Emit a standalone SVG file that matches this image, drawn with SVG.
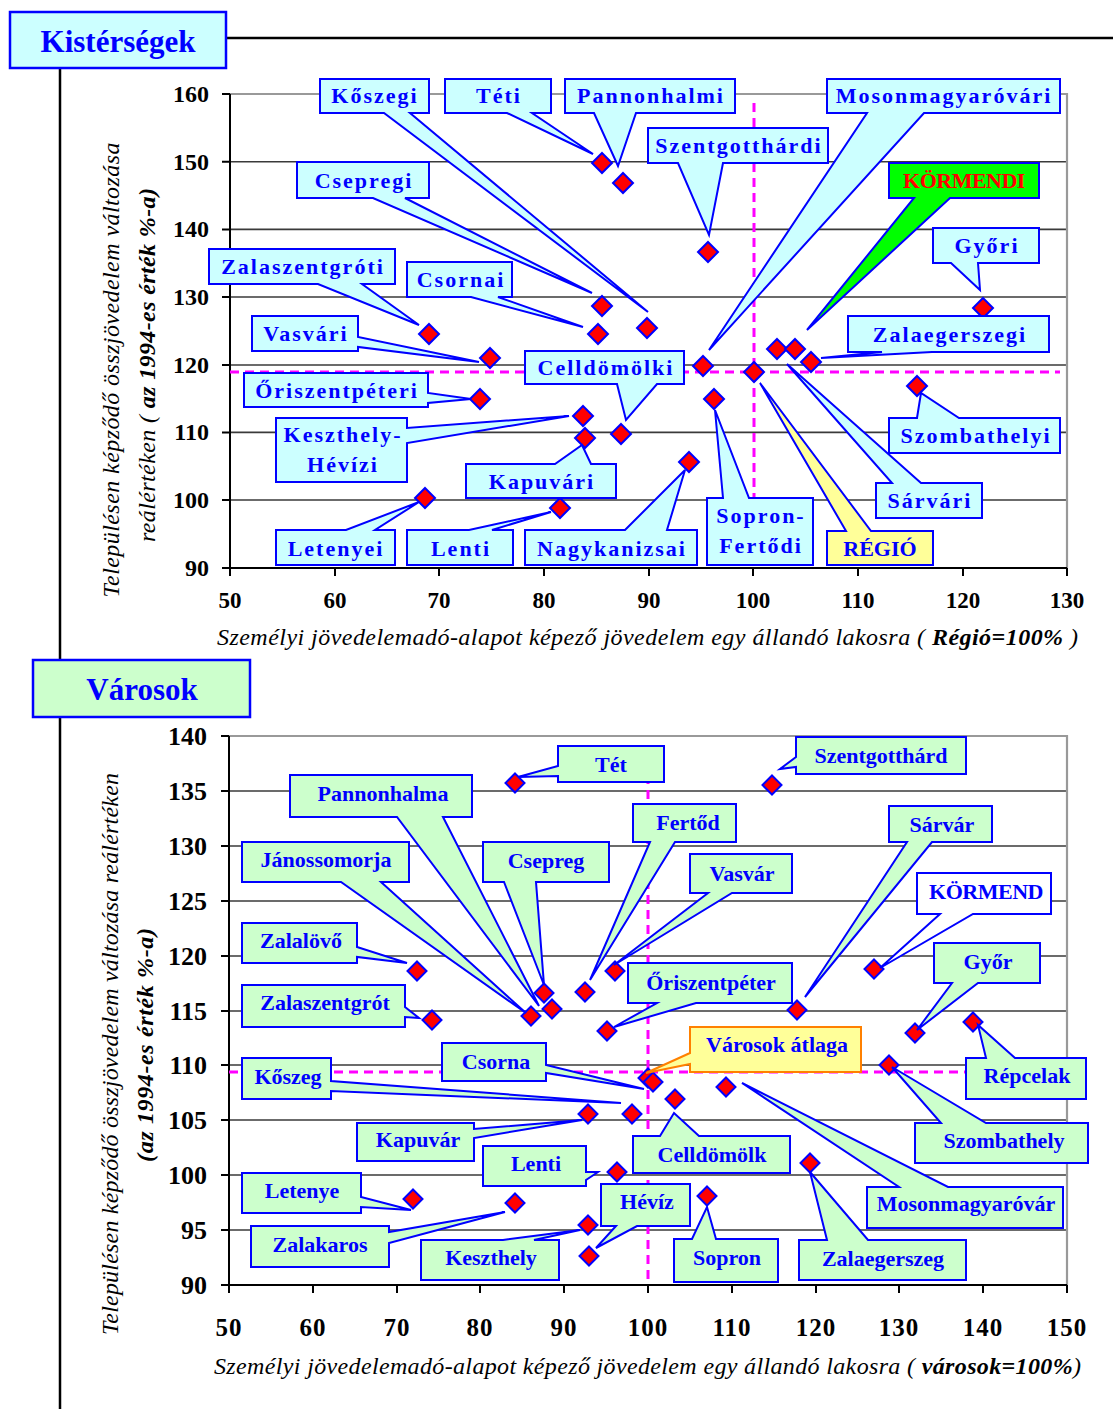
<svg xmlns="http://www.w3.org/2000/svg" width="1113" height="1409" viewBox="0 0 1113 1409" font-family="'Liberation Serif', 'Times New Roman', Times, serif">
<defs>
<style>
.bg{fill:#fff}
.frame{stroke:#000;stroke-width:2.5;fill:none}
.grid{stroke:#3a3a3a;stroke-width:1.6}
.border{stroke:#999;stroke-width:2.2;fill:none}
.axis{stroke:#000;stroke-width:2;fill:none}
.avg{stroke:#ff00ff;stroke-width:3;stroke-dasharray:9,6;fill:none}
.pt{fill:#ff0000;stroke:#0000ff;stroke-width:2}
.c1{fill:#ccffff;stroke:#0000ff;stroke-width:2;stroke-linejoin:miter}
.c2{fill:#ccffcc;stroke:#0000ff;stroke-width:2;stroke-linejoin:miter}
text{font-family:'Liberation Serif', 'Times New Roman', Times, serif}
.lt{font-weight:bold;font-size:22px;fill:#0000ff;text-anchor:middle;letter-spacing:2px}
.lb{font-weight:bold;font-size:22px;fill:#0000ff;text-anchor:middle}
.head{font-weight:bold;font-size:31px;fill:#0000ff;text-anchor:middle}
.ty{font-weight:bold;font-size:24px;fill:#000;text-anchor:end}
.tx{font-weight:bold;font-size:23px;fill:#000;text-anchor:middle}
.by{font-weight:bold;font-size:26px;fill:#000;text-anchor:end}
.bx{font-weight:bold;font-size:25px;fill:#000;text-anchor:middle;letter-spacing:1px}
.ttl{font-style:italic;font-size:24px;fill:#000}
.b{font-weight:bold}
</style>
<path id="dm" d="M0,-10 L10,0 L0,10 L-10,0 Z"/>
<path id="dm2" d="M0,-9.5 L9.5,0 L0,9.5 L-9.5,0 Z"/>
</defs>
<rect class="bg" x="0" y="0" width="1113" height="1409"/>

<g id="frame">
<line class="frame" x1="226" y1="38" x2="1113" y2="38"/>
<line class="frame" x1="60" y1="68" x2="60" y2="1409"/>
</g>

<g id="chart1-axes">
<g class="grid">
<line x1="230" y1="161.7" x2="1067" y2="161.7"/>
<line x1="230" y1="229.4" x2="1067" y2="229.4"/>
<line x1="230" y1="297" x2="1067" y2="297"/>
<line x1="230" y1="365" x2="1067" y2="365"/>
<line x1="230" y1="432.4" x2="1067" y2="432.4"/>
<line x1="230" y1="500" x2="1067" y2="500"/>
</g>
<path class="border" d="M230,94 H1067 V568"/>
<path class="axis" d="M230,94 V568 H1067"/>
<path class="axis" d="M222,94 H230 M222,161.7 H230 M222,229.4 H230 M222,297 H230 M222,365 H230 M222,432.4 H230 M222,500 H230 M222,568 H230 M230,568 V576 M335,568 V576 M439,568 V576 M544,568 V576 M649,568 V576 M753,568 V576 M858,568 V576 M963,568 V576 M1067,568 V576"/>
<text class="ty" x="209" y="102">160</text>
<text class="ty" x="209" y="170">150</text>
<text class="ty" x="209" y="237">140</text>
<text class="ty" x="209" y="305">130</text>
<text class="ty" x="209" y="373">120</text>
<text class="ty" x="209" y="440">110</text>
<text class="ty" x="209" y="508">100</text>
<text class="ty" x="209" y="576">90</text>
<text class="tx" x="230" y="608">50</text>
<text class="tx" x="335" y="608">60</text>
<text class="tx" x="439" y="608">70</text>
<text class="tx" x="544" y="608">80</text>
<text class="tx" x="649" y="608">90</text>
<text class="tx" x="753" y="608">100</text>
<text class="tx" x="858" y="608">110</text>
<text class="tx" x="963" y="608">120</text>
<text class="tx" x="1067" y="608">130</text>
<text class="ttl" x="217" y="645" textLength="861" lengthAdjust="spacing">Személyi jövedelemadó-alapot képező jövedelem egy állandó lakosra ( <tspan class="b">Régió=100%</tspan> )</text>
<text class="ttl" transform="translate(119,370) rotate(-90)" text-anchor="middle" textLength="455" lengthAdjust="spacing">Településen képződő összjövedelem változása</text>
<text class="ttl" transform="translate(155,365) rotate(-90)" text-anchor="middle" textLength="354" lengthAdjust="spacing">reálértéken ( <tspan class="b">az 1994-es érték %-a)</tspan></text>
<line class="avg" x1="230" y1="372" x2="1060" y2="372"/>
<line class="avg" x1="754" y1="103" x2="754" y2="568"/>
</g>

<g id="chart1-points">
<use href="#dm" class="pt" x="602" y="163"/>
<use href="#dm" class="pt" x="623" y="183"/>
<use href="#dm" class="pt" x="708" y="252"/>
<use href="#dm" class="pt" x="983" y="308"/>
<use href="#dm" class="pt" x="602" y="306"/>
<use href="#dm" class="pt" x="647" y="328"/>
<use href="#dm" class="pt" x="598" y="334"/>
<use href="#dm" class="pt" x="429" y="334"/>
<use href="#dm" class="pt" x="490" y="358"/>
<use href="#dm" class="pt" x="703" y="366"/>
<use href="#dm" class="pt" x="777" y="349"/>
<use href="#dm" class="pt" x="795" y="349"/>
<use href="#dm" class="pt" x="811" y="362"/>
<use href="#dm" class="pt" x="754" y="372"/>
<use href="#dm" class="pt" x="480" y="399"/>
<use href="#dm" class="pt" x="714" y="399"/>
<use href="#dm" class="pt" x="917" y="386"/>
<use href="#dm" class="pt" x="583" y="416"/>
<use href="#dm" class="pt" x="621" y="434"/>
<use href="#dm" class="pt" x="585" y="438"/>
<use href="#dm" class="pt" x="689" y="462"/>
<use href="#dm" class="pt" x="425" y="498"/>
<use href="#dm" class="pt" x="560" y="508"/>
</g>

<g id="connectors"></g>

<g id="kisterségek-title">
<rect x="10" y="12" width="216" height="56" fill="#ccffff" stroke="#0000ff" stroke-width="2.5"/>
<text class="head" x="118" y="52">Kistérségek</text>
</g>

<g id="n-koszegi"><path class="c1" d="M320,79 H429 V113 H410 L648,312 L384,113 H320 Z"/><text class="lt" x="375" y="103">Kőszegi</text></g>
<g id="n-teti"><path class="c1" d="M445,79 H551 V113 H532 L593,154 L507,113 H445 Z"/><text class="lt" x="499" y="103">Téti</text></g>
<g id="n-pannonhalmi"><path class="c1" d="M565,79 H735 V113 H636 L618,166 L594,113 H565 Z"/><text class="lt" x="651" y="103">Pannonhalmi</text></g>
<g id="n-mosonmagyarovari"><path class="c1" d="M827,79 H1060 V113 H924 L709,350 L867,113 H827 Z"/><text class="lt" x="944" y="103">Mosonmagyaróvári</text></g>
<g id="n-szentgotthardi"><path class="c1" d="M648,128 H828 V163 H723 L709,235 L678,163 H648 Z"/><text class="lt" x="739" y="153">Szentgotthárdi</text></g>
<g id="n-csepregi"><path class="c1" d="M297,162 H429 V198 H405 L592,293 L373,198 H297 Z"/><text class="lt" x="364" y="188">Csepregi</text></g>
<g id="n-kormendi"><path d="M889,163 H1039 V198 H950 L807,330 L914,198 H889 Z" fill="#00ff00" stroke="#0000ff" stroke-width="2"/><text class="lb" x="964" y="188" style="fill:#ff0000;letter-spacing:-0.5px">KÖRMENDI</text></g>
<g id="n-gyori"><path class="c1" d="M933,228 H1039 V263 H978 L980,290 L951,263 H933 Z"/><text class="lt" x="987" y="253">Győri</text></g>
<g id="n-zalaszentgroti"><path class="c1" d="M209,249 H395 V284 H362 L419,325 L318,284 H209 Z"/><text class="lt" x="303" y="274">Zalaszentgróti</text></g>
<g id="n-csornai"><path class="c1" d="M407,262 H512 V297 H498 L583,327 L471,297 H407 Z"/><text class="lt" x="461" y="287">Csornai</text></g>
<g id="n-vasvari"><path class="c1" d="M252,316 H358 V337 L479,362 L358,347 V351 H252 Z"/><text class="lt" x="306" y="341">Vasvári</text></g>
<g id="n-zalaegerszegi"><path class="c1" d="M848,316 H1049 V352 H932 L821,358 L882,352 H848 Z"/><text class="lt" x="950" y="342">Zalaegerszegi</text></g>
<g id="n-celldomolki"><path class="c1" d="M525,351 H684 V384 H657 L626,420 L617,384 H525 Z"/><text class="lt" x="606" y="375">Celldömölki</text></g>
<g id="n-oriszentpeteri"><path class="c1" d="M244,373 H428 V393 L471,399 L428,403 V407 H244 Z"/><text class="lt" x="337" y="398">Őriszentpéteri</text></g>
<g id="n-keszthely-hevizi"><path class="c1" d="M276,418 H407 V428 L569,416 L407,443 V482 H276 Z"/><text class="lt" x="343" y="442">Keszthely-</text><text class="lt" x="343" y="472">Hévízi</text></g>
<g id="n-szombathelyi"><path class="c1" d="M889,418 H917 L921,393 L959,418 H1060 V453 H889 Z"/><text class="lt" x="976" y="443">Szombathelyi</text></g>
<g id="n-kapuvari"><path class="c1" d="M466,464 H555 L582,445 L591,464 H616 V498 H466 Z"/><text class="lt" x="542" y="489">Kapuvári</text></g>
<g id="n-sarvari"><path class="c1" d="M876,483 H892 L787,364 L921,483 H982 V518 H876 Z"/><text class="lt" x="930" y="508">Sárvári</text></g>
<g id="n-sopron-fertodi"><path class="c1" d="M707,498 H723 L715,410 L749,498 H813 V565 H707 Z"/><text class="lt" x="761" y="523">Sopron-</text><text class="lt" x="761" y="553">Fertődi</text></g>
<g id="n-letenyei"><path class="c1" d="M276,530 H346 L419,502 L375,530 H395 V565 H276 Z"/><text class="lt" x="336" y="556">Letenyei</text></g>
<g id="n-lenti"><path class="c1" d="M407,530 H469 L551,512 L492,530 H513 V565 H407 Z"/><text class="lt" x="461" y="556">Lenti</text></g>
<g id="n-nagykanizsai"><path class="c1" d="M525,530 H625 L685,470 L667,530 H697 V565 H525 Z"/><text class="lt" x="612" y="556">Nagykanizsai</text></g>
<g id="n-regio"><path d="M827,531 H846 L760,383 L871,531 H933 V565 H827 Z" fill="#ffff99" stroke="#0000ff" stroke-width="2"/><text class="lb" x="880" y="556">RÉGIÓ</text></g>

<g id="chart2-axes">
<g class="grid">
<line x1="229" y1="791" x2="1067" y2="791"/>
<line x1="229" y1="846" x2="1067" y2="846"/>
<line x1="229" y1="901" x2="1067" y2="901"/>
<line x1="229" y1="956" x2="1067" y2="956"/>
<line x1="229" y1="1011" x2="1067" y2="1011"/>
<line x1="229" y1="1065" x2="1067" y2="1065"/>
<line x1="229" y1="1120" x2="1067" y2="1120"/>
<line x1="229" y1="1175" x2="1067" y2="1175"/>
<line x1="229" y1="1230" x2="1067" y2="1230"/>
</g>
<path class="border" d="M229,736 H1067 V1285"/>
<path class="axis" d="M229,736 V1285 H1067"/>
<path class="axis" d="M221,736 H229 M221,791 H229 M221,846 H229 M221,901 H229 M221,956 H229 M221,1011 H229 M221,1065 H229 M221,1120 H229 M221,1175 H229 M221,1230 H229 M221,1285 H229 M229,1285 V1293 M313,1285 V1293 M397,1285 V1293 M480,1285 V1293 M564,1285 V1293 M648,1285 V1293 M732,1285 V1293 M816,1285 V1293 M899,1285 V1293 M983,1285 V1293 M1067,1285 V1293"/>
<text class="by" x="207" y="745">140</text>
<text class="by" x="207" y="800">135</text>
<text class="by" x="207" y="855">130</text>
<text class="by" x="207" y="910">125</text>
<text class="by" x="207" y="965">120</text>
<text class="by" x="207" y="1020">115</text>
<text class="by" x="207" y="1074">110</text>
<text class="by" x="207" y="1129">105</text>
<text class="by" x="207" y="1184">100</text>
<text class="by" x="207" y="1239">95</text>
<text class="by" x="207" y="1294">90</text>
<text class="bx" x="229" y="1336">50</text>
<text class="bx" x="313" y="1336">60</text>
<text class="bx" x="397" y="1336">70</text>
<text class="bx" x="480" y="1336">80</text>
<text class="bx" x="564" y="1336">90</text>
<text class="bx" x="648" y="1336">100</text>
<text class="bx" x="732" y="1336">110</text>
<text class="bx" x="816" y="1336">120</text>
<text class="bx" x="899" y="1336">130</text>
<text class="bx" x="983" y="1336">140</text>
<text class="bx" x="1067" y="1336">150</text>
<text class="ttl" x="214" y="1374" textLength="867" lengthAdjust="spacing">Személyi jövedelemadó-alapot képező jövedelem egy állandó lakosra ( <tspan class="b">városok=100%</tspan>)</text>
<text class="ttl" transform="translate(118,1054) rotate(-90)" text-anchor="middle" textLength="562" lengthAdjust="spacing">Településen képződő összjövedelem változása reálértéken</text>
<text class="ttl b" transform="translate(153,1045) rotate(-90)" text-anchor="middle" textLength="234" lengthAdjust="spacing">(az 1994-es érték %-a)</text>
<line class="avg" x1="229" y1="1072" x2="1067" y2="1072"/>
<line class="avg" x1="648" y1="745" x2="648" y2="1285"/>
</g>

<g id="chart2-points">
<use href="#dm2" class="pt" x="515" y="783"/>
<use href="#dm2" class="pt" x="772" y="785"/>
<use href="#dm2" class="pt" x="417" y="971"/>
<use href="#dm2" class="pt" x="615" y="971"/>
<use href="#dm2" class="pt" x="874" y="969"/>
<use href="#dm2" class="pt" x="585" y="992"/>
<use href="#dm2" class="pt" x="544" y="993"/>
<use href="#dm2" class="pt" x="552" y="1009"/>
<use href="#dm2" class="pt" x="531" y="1016"/>
<use href="#dm2" class="pt" x="432" y="1020"/>
<use href="#dm2" class="pt" x="797" y="1010"/>
<use href="#dm2" class="pt" x="607" y="1031"/>
<use href="#dm2" class="pt" x="915" y="1033"/>
<use href="#dm2" class="pt" x="973" y="1022"/>
<use href="#dm2" class="pt" x="889" y="1065"/>
<use href="#dm2" class="pt" x="648" y="1078"/>
<use href="#dm2" class="pt" x="653" y="1082"/>
<use href="#dm2" class="pt" x="726" y="1087"/>
<use href="#dm2" class="pt" x="675" y="1099"/>
<use href="#dm2" class="pt" x="588" y="1114"/>
<use href="#dm2" class="pt" x="632" y="1114"/>
<use href="#dm2" class="pt" x="617" y="1172"/>
<use href="#dm2" class="pt" x="810" y="1163"/>
<use href="#dm2" class="pt" x="413" y="1199"/>
<use href="#dm2" class="pt" x="515" y="1203"/>
<use href="#dm2" class="pt" x="707" y="1196"/>
<use href="#dm2" class="pt" x="588" y="1225"/>
<use href="#dm2" class="pt" x="589" y="1256"/>
</g>

<g id="varosok-title">
<rect x="33" y="660" width="217" height="57" fill="#ccffcc" stroke="#0000ff" stroke-width="2.5"/>
<text class="head" x="142" y="700">Városok</text>
</g>

<g id="n-tet"><path class="c2" d="M558,746 H664 V782 H558 V776 L518,777 L558,766 Z"/><text class="lb" x="611" y="772">Tét</text></g>
<g id="n-szentgotthard"><path class="c2" d="M796,737 H966 V774 H796 V767 L780,769 L796,757 Z"/><text class="lb" x="881" y="763">Szentgotthárd</text></g>
<g id="n-pannonhalma"><path class="c2" d="M290,775 H472 V817 H443 L539,1006 L397,817 H290 Z"/><text class="lb" x="383" y="801">Pannonhalma</text></g>
<g id="n-fertod"><path class="c2" d="M633,804 H736 V842 H675 L590,980 L650,842 H633 Z"/><text class="lb" x="688" y="830">Fertőd</text></g>
<g id="n-sarvar"><path class="c2" d="M889,806 H992 V842 H932 L805,997 L907,842 H889 Z"/><text class="lb" x="942" y="832">Sárvár</text></g>
<g id="n-janossomorja"><path class="c2" d="M242,842 H409 V882 H381 L526,1013 L341,882 H242 Z"/><text class="lb" x="326" y="867">Jánossomorja</text></g>
<g id="n-csepreg"><path class="c2" d="M483,842 H609 V882 H536 L544,985 L504,882 H483 Z"/><text class="lb" x="546" y="868">Csepreg</text></g>
<g id="n-vasvar"><path class="c2" d="M690,854 H792 V893 H732 L614,965 L708,893 H690 Z"/><text class="lb" x="742" y="881">Vasvár</text></g>
<g id="n-kormend"><path d="M917,873 H1051 V914 H973 L880,968 L940,914 H917 Z" fill="#ffffff" stroke="#0000ff" stroke-width="2"/><text class="lb" x="986" y="899" style="letter-spacing:-0.5px">KÖRMEND</text></g>
<g id="n-zalalovo"><path class="c2" d="M242,923 H357 V947 L407,963 L357,957 V963 H242 Z"/><text class="lb" x="301" y="948">Zalalövő</text></g>
<g id="n-gyor"><path class="c2" d="M934,943 H1040 V983 H978 L917,1030 L952,983 H934 Z"/><text class="lb" x="988" y="969">Győr</text></g>
<g id="n-oriszentpeter"><path class="c2" d="M628,963 H792 V1003 H696 L614,1027 L657,1003 H628 Z"/><text class="lb" x="711" y="990">Őriszentpéter</text></g>
<g id="n-zalaszentgrot"><path class="c2" d="M242,985 H405 V1007 L419,1018 L405,1017 V1027 H242 Z"/><text class="lb" x="325" y="1010">Zalaszentgrót</text></g>
<g id="n-csorna"><path class="c2" d="M442,1043 H546 V1065 L644,1089 L546,1073 V1081 H442 Z"/><text class="lb" x="496" y="1069">Csorna</text></g>
<g id="n-varosok-atlaga"><path d="M690,1027 H861 V1072 H690 V1064 L646,1073 L690,1053 Z" fill="#ffff99" stroke="#ff8000" stroke-width="2"/><text class="lb" x="777" y="1052">Városok átlaga</text></g>
<g id="n-koszeg"><path class="c2" d="M242,1058 H331 V1081 L621,1103 L331,1091 V1099 H242 Z"/><text class="lb" x="288" y="1084">Kőszeg</text></g>
<g id="n-repcelak"><path class="c2" d="M966,1058 H986 L978,1025 L1015,1058 H1086 V1099 H966 Z"/><text class="lb" x="1027" y="1083">Répcelak</text></g>
<g id="n-kapuvar"><path class="c2" d="M357,1123 H474 V1129 L582,1120 L474,1138 V1161 H357 Z"/><text class="lb" x="418" y="1147">Kapuvár</text></g>
<g id="n-szombathely"><path class="c2" d="M915,1123 H941 L892,1067 L986,1123 H1088 V1163 H915 Z"/><text class="lb" x="1004" y="1148">Szombathely</text></g>
<g id="n-celldomolk"><path class="c2" d="M633,1136 H660 L674,1113 L699,1136 H790 V1173 H633 Z"/><text class="lb" x="712" y="1162">Celldömölk</text></g>
<g id="n-lenti"><path class="c2" d="M483,1146 H586 V1172 L598,1172 L586,1180 V1186 H483 Z"/><text class="lb" x="536" y="1171">Lenti</text></g>
<g id="n-letenye"><path class="c2" d="M242,1173 H361 V1197 L411,1210 L361,1207 V1213 H242 Z"/><text class="lb" x="302" y="1198">Letenye</text></g>
<g id="n-heviz"><path class="c2" d="M601,1184 H690 V1226 H637 L596,1248 L616,1226 H601 Z"/><text class="lb" x="647" y="1209">Hévíz</text></g>
<g id="n-mosonmagyarovar"><path class="c2" d="M867,1187 H899 L742,1083 L948,1187 H1063 V1228 H867 Z"/><text class="lb" x="966" y="1211">Mosonmagyaróvár</text></g>
<g id="n-zalakaros"><path class="c2" d="M251,1226 H389 V1232 L505,1212 L389,1243 V1267 H251 Z"/><text class="lb" x="320" y="1252">Zalakaros</text></g>
<g id="n-keszthely"><path class="c2" d="M421,1240 H503 L580,1230 L534,1240 H559 V1280 H421 Z"/><text class="lb" x="491" y="1265">Keszthely</text></g>
<g id="n-sopron"><path class="c2" d="M674,1239 H692 L707,1207 L716,1239 H778 V1282 H674 Z"/><text class="lb" x="727" y="1265">Sopron</text></g>
<g id="n-zalaegerszeg"><path class="c2" d="M799,1240 H827 L810,1172 L868,1240 H966 V1280 H799 Z"/><text class="lb" x="883" y="1266">Zalaegerszeg</text></g>
</svg>
